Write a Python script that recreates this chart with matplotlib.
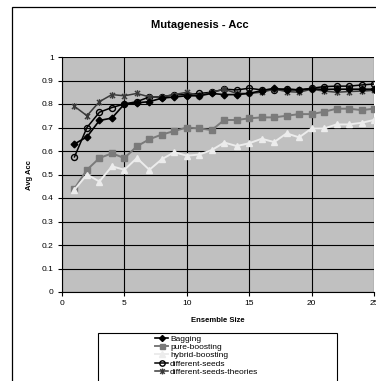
import matplotlib
matplotlib.use("Agg")
import matplotlib.pyplot as plt
from matplotlib.path import Path
from matplotlib.patches import Rectangle

plt.rcParams['font.family'] = ['Liberation Sans', 'DejaVu Sans']

ensemble_size = list(range(1, 26))

bagging = [0.63, 0.66, 0.73, 0.74, 0.80, 0.805, 0.81, 0.825, 0.83, 0.835,
           0.835, 0.845, 0.84, 0.84, 0.845, 0.857, 0.867, 0.86, 0.86, 0.865,
           0.862, 0.863, 0.863, 0.863, 0.863]
pure_boosting = [0.44, 0.52, 0.57, 0.59, 0.57, 0.62, 0.65, 0.67, 0.685, 0.70,
                 0.696, 0.689, 0.732, 0.732, 0.739, 0.743, 0.743, 0.75, 0.757, 0.757,
                 0.767, 0.78, 0.78, 0.774, 0.78]
hybrid_boosting = [0.435, 0.50, 0.47, 0.535, 0.52, 0.57, 0.52, 0.565, 0.595, 0.58,
                   0.585, 0.604, 0.636, 0.621, 0.633, 0.652, 0.638, 0.675, 0.658, 0.696,
                   0.696, 0.713, 0.713, 0.72, 0.732]
different_seeds = [0.575, 0.70, 0.765, 0.785, 0.80, 0.81, 0.83, 0.83, 0.84, 0.84,
                   0.845, 0.85, 0.863, 0.86, 0.867, 0.86, 0.86, 0.865, 0.86, 0.867,
                   0.874, 0.876, 0.876, 0.881, 0.885]
different_seeds_theories = [0.79, 0.75, 0.81, 0.84, 0.835, 0.845, 0.83, 0.83, 0.84, 0.85,
                            0.835, 0.85, 0.863, 0.845, 0.845, 0.85, 0.863, 0.853, 0.85, 0.863,
                            0.855, 0.85, 0.853, 0.855, 0.858]

y_ticks = [0, 0.1, 0.2, 0.3, 0.4, 0.5, 0.6, 0.7, 0.8, 0.9, 1]
y_tick_labels = ['0', '0.1', '0.2', '0.3', '0.4', '0.5', '0.6', '0.7', '0.8', '0.9', '1']
x_ticks = [0, 5, 10, 15, 20, 25]

# asterisk marker: an "x" crossed by a vertical stroke
asterisk = Path(
    [(-1, -1), (1, 1), (-1, 1), (1, -1), (0, -1.3), (0, 1.3)],
    [Path.MOVETO, Path.LINETO, Path.MOVETO, Path.LINETO, Path.MOVETO, Path.LINETO],
)

W, H = 376, 381
fig = plt.figure(figsize=(W / 100, H / 100), dpi=100)
fig.patch.set_facecolor('white')

# outer chart border
fig.add_artist(Rectangle((12 / W, -0.1), 1.2, (H - 7) / H + 0.1,
                         transform=fig.transFigure, fill=False,
                         edgecolor='black', linewidth=0.9))

ax = fig.add_axes([62 / W, (H - 292) / H, (374 - 62) / W, (292 - 57) / H])
ax.set_facecolor('#c0c0c0')

ax.plot(ensemble_size, bagging, color='black', lw=1.2, marker='D',
        ms=3.4, mfc='black', mec='black', label='Bagging', zorder=5)
ax.plot(ensemble_size, pure_boosting, color='#7a7a7a', lw=1.4, marker='s',
        ms=4.0, mfc='#7a7a7a', mec='#7a7a7a', label='pure-boosting', zorder=3)
ax.plot(ensemble_size, hybrid_boosting, color='#ececec', lw=1.4, marker='^',
        ms=4.3, mfc='#ececec', mec='#ececec', label='hybrid-boosting', zorder=3)
ax.plot(ensemble_size, different_seeds, color='black', lw=1.1, marker='o',
        ms=4.3, mfc='none', mec='black', mew=1.0, label='different-seeds', zorder=4)
ax.plot(ensemble_size, different_seeds_theories, color='#3a3a3a', lw=1.1,
        marker=asterisk, ms=4.8, mec='#3a3a3a', mew=1.0,
        label='different-seeds-theories', zorder=4)

ax.set_xlim(0, 25)
ax.set_ylim(0, 1)
ax.set_xticks(x_ticks)
ax.set_yticks(y_ticks)
ax.set_yticklabels(y_tick_labels)
ax.grid(True, color='black', linewidth=0.8)
ax.set_axisbelow(True)
for side in ['top', 'right']:
    ax.spines[side].set_visible(False)
for side in ['left', 'bottom']:
    ax.spines[side].set_color('black')
    ax.spines[side].set_linewidth(0.8)
ax.tick_params(axis='both', direction='out', length=3, width=0.8,
               labelsize=6, pad=3)

fig.text(200 / W, 1 - 25 / H, 'Mutagenesis - Acc', ha='center', va='center',
         fontsize=8, fontweight='bold')
ax.set_xlabel('Ensemble Size', fontsize=5.5, fontweight='bold', labelpad=7)
ax.set_ylabel('Avg Acc', fontsize=5.5, fontweight='bold', labelpad=6)

# legend box
fig.add_artist(Rectangle((98 / W, -0.1), (337 - 98) / W, (H - 333) / H + 0.1,
                         transform=fig.transFigure, fill=False,
                         edgecolor='black', linewidth=0.8))
handles, labels = ax.get_legend_handles_labels()
fig.legend(handles, labels, loc='upper left',
           bbox_to_anchor=(155 / W, 1 - 335 / H), frameon=False,
           fontsize=6, handlelength=1.6, handletextpad=0.2,
           labelspacing=0.05, borderpad=0, borderaxespad=0, markerscale=0.9)

fig.savefig('out.png', dpi=100)
